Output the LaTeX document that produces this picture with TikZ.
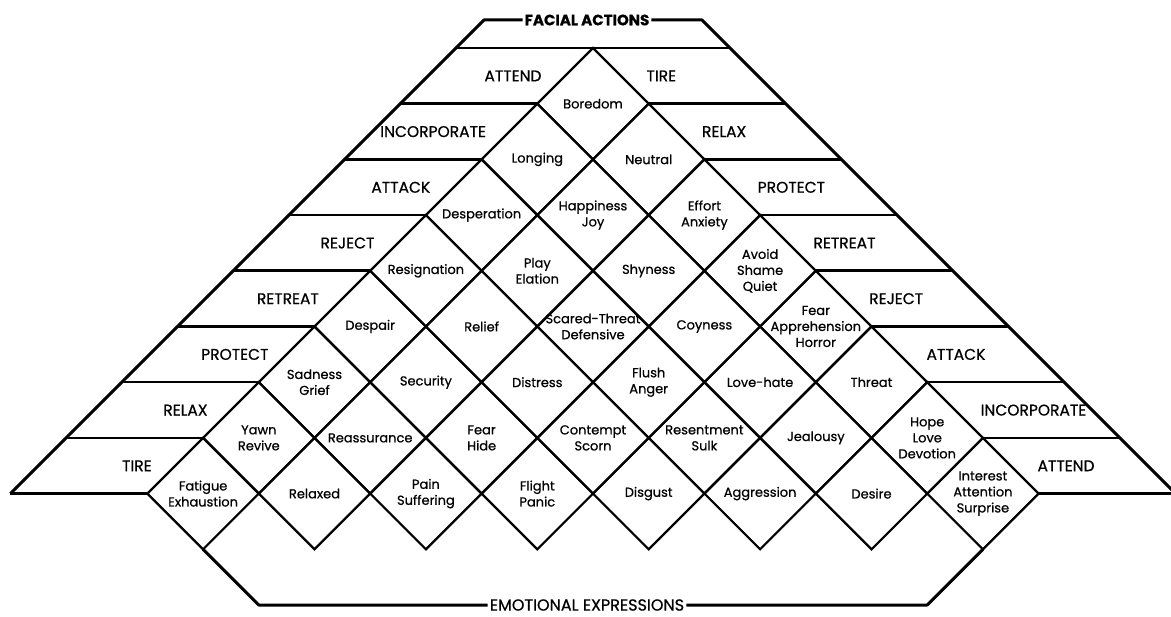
\documentclass[tikz,border=0pt]{standalone}
\usepackage{fontspec}
\setmainfont{Poppins}[FakeBold=0.7]
\usetikzlibrary{shapes.geometric,calc}

\begin{document}
\begin{tikzpicture}[x=1pt,y=-1pt,
    every node/.style={font=\fontsize{13}{16}\selectfont},
    emo/.style={diamond,draw,line width=2.2pt,minimum width=111.4pt,
                minimum height=111.4pt,inner sep=0pt,outer sep=0pt,
                label={[align=center]center:#1}},
    actl/.style={anchor=east,font=\fontsize{15.5}{17}\selectfont},
    actr/.style={anchor=west,font=\fontsize{15.5}{17}\selectfont},
    heading/.style={inner sep=2pt,font=\fontsize{16}{18}\selectfont},
    band/.style={line width=2.6pt},
    outer/.style={line width=3pt,line join=round}]
  \useasboundingbox (0,0) rectangle (1171,617);

  % emotional expressions
  \node[emo=Boredom] (boredom) at (593,103.7) {};
  \node[emo=Longing] (longing) at (537.3,159.4) {};
  \node[emo=Neutral] (neutral) at (648.7,159.4) {};
  \node[emo=Desperation] (desperation) at (481.6,215.1) {};
  \node[emo={Happiness\\Joy}] (happiness) at (593,215.1) {};
  \node[emo={Effort\\Anxiety}] (effort) at (704.4,215.1) {};
  \node[emo=Resignation] (resignation) at (425.9,270.8) {};
  \node[emo={Play\\Elation}] (play) at (537.3,270.8) {};
  \node[emo=Shyness] (shyness) at (648.7,270.8) {};
  \node[emo={Avoid\\Shame\\Quiet}] (avoid) at (760.1,270.8) {};
  \node[emo=Despair] (despair) at (370.2,326.5) {};
  \node[emo=Relief] (relief) at (481.6,326.5) {};
  \node[emo={Scared-Threat\\Defensive}] (scared) at (593,326.5) {};
  \node[emo=Coyness] (coyness) at (704.4,326.5) {};
  \node[emo={Fear\\Apprehension\\Horror}] (fear) at (815.8,326.5) {};
  \node[emo={Sadness\\Grief}] (sadness) at (314.5,382.2) {};
  \node[emo=Security] (security) at (425.9,382.2) {};
  \node[emo=Distress] (distress) at (537.3,382.2) {};
  \node[emo={Flush\\Anger}] (flush) at (648.7,382.2) {};
  \node[emo=Love-hate] (lovehate) at (760.1,382.2) {};
  \node[emo=Threat] (threat) at (871.5,382.2) {};
  \node[emo={Yawn\\Revive}] (yawn) at (258.8,437.9) {};
  \node[emo=Reassurance] (reassurance) at (370.2,437.9) {};
  \node[emo={Fear\\Hide}] (fearhide) at (481.6,437.9) {};
  \node[emo={Contempt\\Scorn}] (contempt) at (593,437.9) {};
  \node[emo={Resentment\\Sulk}] (resentment) at (704.4,437.9) {};
  \node[emo=Jealousy] (jealousy) at (815.8,437.9) {};
  \node[emo={Hope\\Love\\Devotion}] (hope) at (927.2,437.9) {};
  \node[emo={Fatigue\\Exhaustion}] (fatigue) at (203.1,493.6) {};
  \node[emo=Relaxed] (relaxed) at (314.5,493.6) {};
  \node[emo={Pain\\Suffering}] (pain) at (425.9,493.6) {};
  \node[emo={Flight\\Panic}] (flight) at (537.3,493.6) {};
  \node[emo=Disgust] (disgust) at (648.7,493.6) {};
  \node[emo=Aggression] (aggression) at (760.1,493.6) {};
  \node[emo=Desire] (desire) at (871.5,493.6) {};
  \node[emo={Interest\\Attention\\Surprise}] (interest) at (982.9,493.6) {};

  % facial actions, left
  \node[actl] (lattend) at (545,75.9) {ATTEND};
  \node[actl] (lincorp) at (489.5,131.6) {INCORPORATE};
  \node[actl] (lattack) at (433.8,187.3) {ATTACK};
  \node[actl] (lreject) at (378,243) {REJECT};
  \node[actl] (lretreat) at (322.4,298.7) {RETREAT};
  \node[actl] (lprotect) at (272,354.4) {PROTECT};
  \node[actl] (lrelax) at (211,410.1) {RELAX};
  \node[actl] (ltire) at (155.2,465.8) {TIRE};
  % facial actions, right
  \node[actr] (rtire) at (643,75.9) {TIRE};
  \node[actr] (rrelax) at (698.5,131.6) {RELAX};
  \node[actr] (rprotect) at (754.2,187.3) {PROTECT};
  \node[actr] (rretreat) at (810,243) {RETREAT};
  \node[actr] (rreject) at (865.7,298.7) {REJECT};
  \node[actr] (rattack) at (923,354.4) {ATTACK};
  \node[actr] (rincorp) at (977.1,410.1) {INCORPORATE};
  \node[actr] (rattend) at (1034,465.8) {ATTEND};

  \node[heading,font=\fontsize{15}{17}\selectfont\bfseries] (facial) at (587,20) {FACIAL ACTIONS};
  \node[heading] (expr) at (587,605) {EMOTIONAL EXPRESSIONS};

  \coordinate (lt) at ($(boredom.north)+(-109,-28)$);
  \coordinate (rt) at ($(boredom.north)+(109,-28)$);
  \coordinate (lb) at ($(fatigue.west)+(-137,0)$);
  \coordinate (rb) at ($(interest.east)+(137,0)$);
  \coordinate (bl) at ($(fatigue.south)+(55.7,55.7)$);
  \coordinate (br) at ($(interest.south)+(-55.7,55.7)$);

  % bands
  \draw[band] ($(boredom.north)+(-137,0)$) -- ($(boredom.north)+(137,0)$);
  \draw[band] (boredom.west) -- ++(-137,0);
  \draw[band] (longing.west) -- ++(-137,0);
  \draw[band] (desperation.west) -- ++(-137,0);
  \draw[band] (resignation.west) -- ++(-137,0);
  \draw[band] (despair.west) -- ++(-137,0);
  \draw[band] (sadness.west) -- ++(-137,0);
  \draw[band] (yawn.west) -- ++(-137,0);
  \draw[band] (fatigue.west) -- (lb);
  \draw[band] (boredom.east) -- ++(137,0);
  \draw[band] (neutral.east) -- ++(137,0);
  \draw[band] (effort.east) -- ++(137,0);
  \draw[band] (avoid.east) -- ++(137,0);
  \draw[band] (fear.east) -- ++(137,0);
  \draw[band] (threat.east) -- ++(137,0);
  \draw[band] (hope.east) -- ++(137,0);
  \draw[band] (interest.east) -- (rb);

  % outline
  \draw[outer] (facial.west) -- (lt) -- (lb);
  \draw[outer] (facial.east) -- (rt) -- (rb);
  \draw[outer] (fatigue.south) -- (bl) -- (expr.west);
  \draw[outer] (interest.south) -- (br) -- (expr.east);
\end{tikzpicture}
\end{document}
